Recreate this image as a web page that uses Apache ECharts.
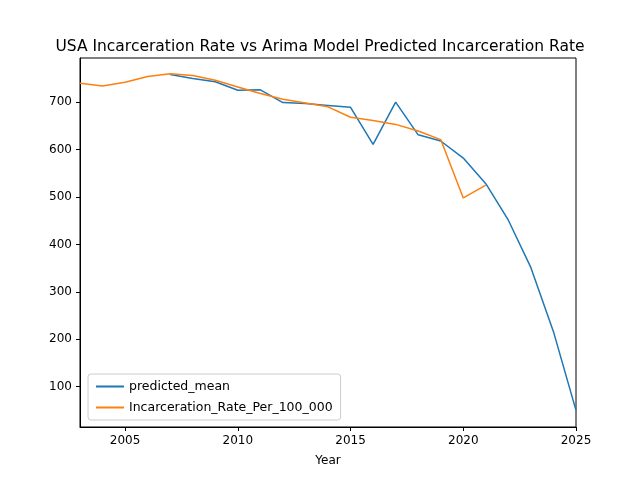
<!DOCTYPE html>
<html>
<head>
<meta charset="utf-8">
<script src="https://cdn.jsdelivr.net/npm/echarts@6/dist/echarts.min.js"></script>
<style>html,body{margin:0;padding:0;background:#fff}#chart{width:640px;height:480px}</style>
</head>
<body>
<div id="chart"></div>
<script>
// predicted values 2007-2025
let predYears = [2007,2008,2009,2010,2011,2012,2013,2014,2015,2016,2017,2018,2019,2020,2021,2022,2023,2024,2025];
let predicted = [758,750,743,725,726,699,697,693,689,611,700,631,618,582,528,451,351,216,50];
// actual rate 2003-2021
let actYears = [2003,2004,2005,2006,2007,2008,2009,2010,2011,2012,2013,2014,2015,2016,2017,2018,2019,2020,2021];
let actual = [740,734,742,754,760,756,746,732,718,706,698,690,668,661,653,639,621,498,525];
let xTicks = [2005,2010,2015,2020,2025];
let yTicks = [100,200,300,400,500,600,700];

function pairs(xs, ys) {
    return xs.map((x, i) => [x, ys[i]]);
}

let chart = echarts.init(document.getElementById('chart'));
let font = 'DejaVu Sans';
chart.setOption({
    animation: false,
    textStyle: {fontFamily: font},
    title: {
        text: 'USA Incarceration Rate vs Arima Model Predicted Incarceration Rate',
        left: 'center', top: 34,
        textStyle: {fontFamily: font, fontSize: 15.5, fontWeight: 'normal', color: '#000'}
    },
    grid: {left: 80, right: 64, top: 58, bottom: 53, show: true, borderColor: '#000', borderWidth: 1},
    legend: {
        orient: 'vertical', left: 88, bottom: 60,
        borderColor: '#ccc', borderWidth: 1, borderRadius: 3, padding: [6, 8],
        itemWidth: 28, itemHeight: 2, itemGap: 8,
        icon: 'rect',
        textStyle: {fontFamily: font, fontSize: 12.5, color: '#000'},
        data: ['predicted_mean', 'Incarceration_Rate_Per_100_000']
    },
    xAxis: {
        type: 'value', min: 2003, max: 2025,
        name: 'Year', nameLocation: 'middle', nameGap: 28,
        nameTextStyle: {fontFamily: font, fontSize: 12, color: '#000'},
        splitLine: {show: false},
        axisLine: {lineStyle: {color: '#000'}},
        axisTick: {show: true, customValues: xTicks, length: 4, lineStyle: {color: '#000'}},
        axisLabel: {customValues: xTicks, color: '#000', fontSize: 12, formatter: v => String(v)}
    },
    yAxis: {
        type: 'value', min: 15, max: 793,
        splitLine: {show: false},
        axisLine: {show: true, lineStyle: {color: '#000'}},
        axisTick: {show: true, customValues: yTicks, length: 4, lineStyle: {color: '#000'}},
        axisLabel: {customValues: yTicks, color: '#000', fontSize: 12}
    },
    series: [
        {name: 'predicted_mean', type: 'line', data: pairs(predYears, predicted),
         showSymbol: false, lineStyle: {color: '#1f77b4', width: 1.5}, itemStyle: {color: '#1f77b4'}},
        {name: 'Incarceration_Rate_Per_100_000', type: 'line', data: pairs(actYears, actual),
         showSymbol: false, lineStyle: {color: '#ff7f0e', width: 1.5}, itemStyle: {color: '#ff7f0e'}}
    ]
});
</script>
</body>
</html>
